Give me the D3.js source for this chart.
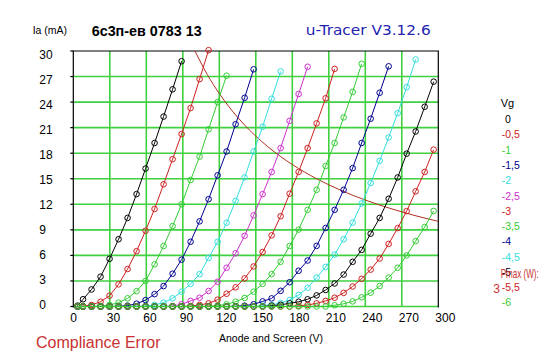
<!DOCTYPE html>
<html><head><meta charset="utf-8">
<script src="https://cdn.jsdelivr.net/npm/d3@7"></script>
<style>html,body{margin:0;padding:0;background:#fff;}svg{display:block;}</style>
</head><body>
<script>
// ---- data ----
const anodeV = [3.5, 8, 15, 22.4, 29.8, 37.2, 44.6, 52, 59.4, 66.8, 74.2, 81.6, 89, 96.4, 103.8, 111.2, 118.6, 126, 133.4, 140.8, 148.2, 155.6, 163, 170.4, 177.8, 185.2, 192.6, 200, 207.4, 214.8, 222.2, 229.6, 237, 244.4, 251.8, 259.2, 266.6, 274, 281.4, 288.8, 296.2];
const gridVoltages = ["0", "-0,5", "-1", "-1,5", "-2", "-2,5", "-3", "-3,5", "-4", "-4,5", "-5", "-5,5", "-6"];
const ia_0    = [0.1, 0.85, 2.0, 3.5, 5.6, 7.9, 10.4, 13.2, 16.2, 19.2, 22.3, 25.5, 28.8];
const ia_m0_5 = [0, 0.05, 0.18, 0.56, 1.27, 2.6, 4.4, 6.5, 8.9, 11.45, 14.35, 17.3, 20.25, 23.3, 26.7, 30.1];
const ia_m1   = [0, 0, 0, 0.05, 0.18, 0.45, 0.96, 1.8, 3.0, 4.95, 7.1, 9.45, 12.0, 14.85, 17.6, 20.8, 24.0, 27.1];
const ia_m1_5 = [0, 0, 0, 0, 0, 0.02, 0.1, 0.33, 0.75, 1.45, 2.4, 3.85, 5.5, 7.6, 10.0, 12.6, 15.4, 18.2, 21.4, 24.5, 27.85];
const ia_m2   = [0, 0, 0, 0, 0, 0, 0, 0.02, 0.05, 0.18, 0.45, 0.96, 1.74, 2.65, 3.8, 5.7, 7.6, 9.84, 12.4, 15.15, 18.2, 21.1, 24.4, 27.6];
const ia_m2_5 = [0, 0, 0, 0, 0, 0, 0, 0, 0, 0, 0, 0.05, 0.26, 0.65, 1.03, 1.82, 2.9, 4.55, 6.25, 8.3, 10.7, 13.2, 15.8, 18.6, 21.8, 24.95, 28.15];
const ia_m3   = [0, 0, 0, 0, 0, 0, 0, 0, 0, 0, 0, 0, 0, 0.05, 0.18, 0.37, 0.8, 1.5, 2.25, 3.3, 4.7, 6.4, 8.35, 10.6, 13.25, 15.8, 18.6, 21.5, 24.45, 27.9];
const ia_m3_5 = [0, 0, 0, 0, 0, 0, 0, 0, 0, 0, 0, 0, 0, 0, 0, 0.03, 0.1, 0.26, 0.56, 1.0, 1.74, 2.65, 3.8, 5.25, 7.1, 9.03, 11.35, 13.7, 16.5, 19.2, 22.2, 25.2, 28.5];
const ia_m4   = [0, 0, 0, 0, 0, 0, 0, 0, 0, 0, 0, 0, 0, 0, 0, 0, 0, 0, 0.03, 0.1, 0.26, 0.6, 0.95, 1.84, 2.85, 4.2, 5.4, 7.12, 9.22, 11.35, 13.7, 16.25, 19.2, 22.05, 25.1, 28.2];
const ia_m4_5 = [0, 0, 0, 0, 0, 0, 0, 0, 0, 0, 0, 0, 0, 0, 0, 0, 0, 0, 0, 0, 0, 0.1, 0.2, 0.4, 0.76, 1.35, 2.2, 3.4, 4.65, 6.1, 7.9, 9.85, 12.1, 14.5, 17.1, 19.85, 22.7, 25.75, 29.0];
const ia_m5   = [0, 0, 0, 0, 0, 0, 0, 0, 0, 0, 0, 0, 0, 0, 0, 0, 0, 0, 0, 0, 0, 0, 0.1, 0.2, 0.37, 0.56, 0.85, 1.3, 1.94, 2.7, 3.75, 5.25, 6.65, 8.55, 10.4, 12.65, 15.15, 17.95, 20.55, 23.45, 26.4];
const ia_m5_5 = [0, 0, 0, 0, 0, 0, 0, 0, 0, 0, 0, 0, 0, 0, 0, 0, 0, 0, 0, 0, 0, 0, 0, 0, 0, 0.08, 0.18, 0.37, 0.65, 1.03, 1.6, 2.35, 3.25, 4.33, 5.63, 7.35, 9.2, 11.2, 13.52, 15.8, 18.42];
const ia_m6   = [0, 0, 0, 0, 0, 0, 0, 0, 0, 0, 0, 0, 0, 0, 0, 0, 0, 0, 0, 0, 0, 0, 0, 0, 0, 0, 0, 0, 0, 0.15, 0.32, 0.6, 1.08, 1.62, 2.4, 3.4, 4.55, 6.0, 7.68, 9.33, 11.22];
const curveColors = ["#000000", "#cc2020", "#33cc33", "#000090", "#33dddd", "#cc33cc", "#cc2020", "#33cc33", "#000090", "#33dddd", "#000000", "#cc2020", "#33cc33"];
const pmaxW = "3";
const pmaxV = [100, 110, 120, 130, 140, 150, 160, 170, 180, 190, 200, 210, 220, 230, 240, 250, 260, 270, 280, 290, 300];
const pmaxI = [30, 27.27, 25, 23.08, 21.43, 20, 18.75, 17.65, 16.67, 15.79, 15, 14.29, 13.64, 13.04, 12.5, 12, 11.54, 11.11, 10.71, 10.34, 10];
const xTicks = [0, 30, 60, 90, 120, 150, 180, 210, 240, 270, 300];
const yTicks = [0, 3, 6, 9, 12, 15, 18, 21, 24, 27, 30];

const series = [ia_0, ia_m0_5, ia_m1, ia_m1_5, ia_m2, ia_m2_5, ia_m3, ia_m3_5, ia_m4, ia_m4_5, ia_m5, ia_m5_5, ia_m6];

// ---- drawing ----
const W = 547, H = 357;
const FONT = "'Liberation Sans', Arial, sans-serif";
const svg = d3.select("body").append("svg").attr("width", W).attr("height", H);
svg.append("rect").attr("width", W).attr("height", H).attr("fill", "#fff");

const x = d3.scaleLinear().domain([0, 300]).range([73.3, 438.3]);
const y = d3.scaleLinear().domain([0, 30]).range([306.5, 51]);
const yLab = d3.scaleLinear().domain([0, 30]).range([304.3, 55]);

function txt(px, py, s, o = {}) {
  const t = svg.append("text").text(s)
    .attr("font-family", o.family || FONT)
    .attr("font-size", o.size || 11)
    .attr("font-weight", o.weight || "normal")
    .attr("fill", o.fill || "#000")
    .attr("text-anchor", o.anchor || "start");
  if (o.sy) t.attr("x", 0).attr("y", 0).attr("transform", `translate(${px},${py}) scale(1,${o.sy})`);
  else t.attr("x", px).attr("y", py);
  if (o.len) t.attr("textLength", o.len).attr("lengthAdjust", "spacingAndGlyphs");
  return t;
}

// frame bottom (black under green)
svg.append("line").attr("x1", x(0)).attr("x2", x(300)).attr("y1", y(0)).attr("y2", y(0))
  .attr("stroke", "#000").attr("stroke-width", 1);

// grid
const grid = svg.append("g").attr("stroke", "#3fd13f").attr("stroke-width", 1.6);
grid.selectAll("line.v").data(xTicks.filter(v => v > 0 && v < 300)).join("line")
  .attr("x1", d => x(d)).attr("x2", d => x(d)).attr("y1", y(30)).attr("y2", y(0));
grid.selectAll("line.h").data(yTicks.filter(v => v < 30)).join("line")
  .attr("x1", x(0)).attr("x2", x(300)).attr("y1", d => y(d)).attr("y2", d => y(d));

// frame
const fr = svg.append("g").attr("stroke", "#000").attr("stroke-width", 1.2).attr("fill", "none");
fr.append("path").attr("d", `M${x(0)},${y(0)+1}V${y(30)}H${x(300)}V${y(0)+1}`);
fr.selectAll("line.t").data(yTicks).join("line")
  .attr("x1", x(0) - 3).attr("x2", x(0)).attr("y1", d => y(d)).attr("y2", d => y(d));

// tick labels
yTicks.forEach(v => txt(39.3, yLab(v) + 4.4, String(v), {size: 12}));
xTicks.forEach(v => txt(x(v) - 3, 322, String(v), {size: 12}));

// Pmax curve
const pm = pmaxV.map((v, i) => [v, pmaxI[i]]);
svg.append("path").attr("d", d3.line().x(d => x(d[0])).y(d => y(d[1])).curve(d3.curveMonotoneX)(pm))
  .attr("fill", "none").attr("stroke", "#b03020").attr("stroke-width", 1);

// curves
const line = d3.line().x(d => x(d[0])).y(d => y(d[1]));
series.forEach((s, i) => {
  const pts = s.map((v, k) => [anodeV[k], v]);
  const g = svg.append("g");
  g.append("path").attr("d", line(pts)).attr("fill", "none")
    .attr("stroke", curveColors[i]).attr("stroke-width", 1);
  g.selectAll("circle").data(pts).join("circle")
    .attr("cx", d => x(d[0])).attr("cy", d => y(d[1])).attr("r", 2.8)
    .attr("fill", "none").attr("stroke", curveColors[i]).attr("stroke-width", 1);
});

// titles
txt(32.7, 34, "Ia (mA)", {size: 10.5});
txt(91.7, 35.7, "6с3п-ев 0783 13", {size: 14, weight: "bold", len: 110});
txt(305.7, 35, "u-Tracer V3.12.6", {size: 14.5, fill: "#2323b0", family: "'DejaVu Sans', sans-serif", len: 125});

// legend
txt(500.7, 106.5, "Vg", {size: 11});
gridVoltages.forEach((g, i) => {
  txt(g === "0" ? 505 : 501.7, 119.3 + i * 15.28 + 3.8, g, {size: 10.5, fill: curveColors[i]});
});
txt(500.7, 278.3, "Pmax (W):", {size: 9.5, sy: 1.3, fill: "#c83232", len: 38});
txt(493.3, 292.5, pmaxW, {size: 12, fill: "#c83232"});

// bottom texts
txt(36, 347.5, "Compliance Error", {size: 16, fill: "#c83232"});
txt(219, 342, "Anode and Screen (V)", {size: 10.5});
</script>
</body></html>
